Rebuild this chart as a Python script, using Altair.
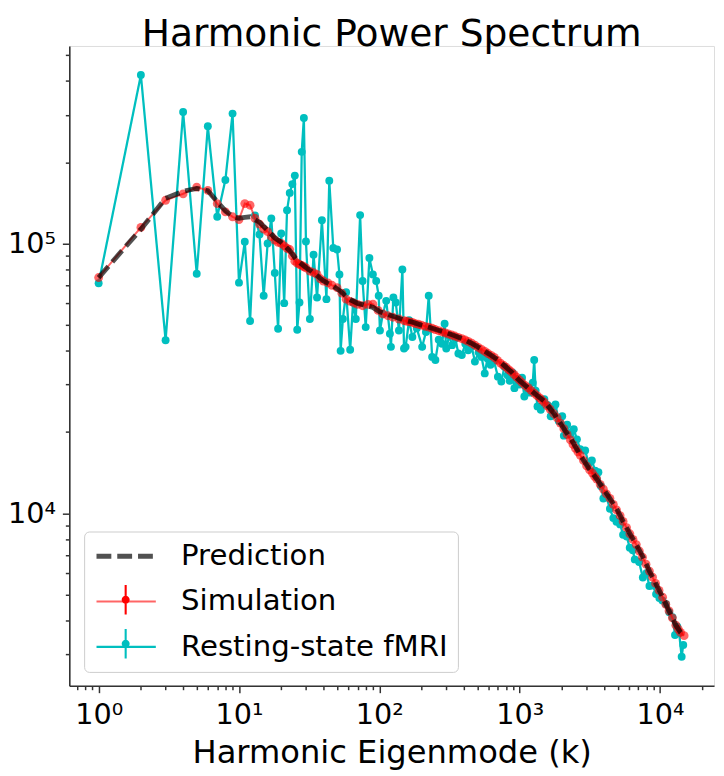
import altair as alt
import pandas as pd

SERIES = ["Prediction", "Simulation", "Resting-state fMRI"]
COLORS = ["#000000", "#ff0000", "#00bfbf"]
MARKERS = ["Simulation", "Resting-state fMRI"]

pred_k = [1, 2, 3, 4, 5, 6, 7, 8, 9, 10, 11, 12, 14, 16, 18, 20, 23, 26, 30, 35, 40,
          46, 53, 60, 70, 80, 90, 100, 115, 130, 150, 170, 200, 225, 260, 300, 345,
          390, 450, 500, 600, 700, 870, 1000, 1270, 1500, 1750, 2065, 2400, 2706,
          3100, 3542, 4000, 4400, 5000, 5460, 6100, 6780, 7600, 8410, 9400, 10440,
          11600, 12970, 14000, 14860]
pred_v = [74800, 113000, 147000, 156000, 160000, 157000, 143000, 132000, 126000, 124000,
          125000, 125500, 120000, 112000, 105000, 101000, 94000, 86500, 81500, 77000, 72600,
          70000, 66500, 62500, 60000, 59000, 58000, 56000, 54500, 53400, 52000, 51200, 49800,
          49000, 47800, 46700, 45500, 44400, 42800, 41500, 39100, 37000, 33500, 31000, 27900,
          26000, 23500, 20600, 18300, 16400, 14700, 13400, 12200, 11350, 10200, 9330, 8400,
          7660, 6850, 6110, 5450, 4890, 4350, 3850, 3620, 3520]

sim_k = [1, 2, 3, 4, 5, 6, 7, 8, 9, 10, 11, 12, 13, 14, 15, 16, 17, 18, 19, 20,
         21, 22, 23, 24, 25, 26, 27, 28, 29, 30, 32, 34, 36, 38, 40, 43, 46, 50, 54, 58,
         62, 66, 70, 76, 83, 90, 98, 106, 115, 125, 138,
         150, 157, 165, 172, 180, 190, 200, 212, 225, 238, 250, 265, 280, 295, 310,
         328, 345, 365, 387, 408, 430, 455, 480, 507, 535, 565, 595, 627, 660, 695,
         730, 765, 800, 835, 870, 910, 950, 995, 1040, 1090, 1150, 1210, 1270, 1330, 1390,
         1440, 1500, 1570, 1650, 1750, 1850, 1950, 2065, 2180, 2300, 2400, 2500, 2600,
         2706, 2850, 3000, 3150, 3300, 3420, 3542, 3750, 3950, 4150, 4400, 4650, 4900,
         5200, 5460, 5780, 6100, 6420, 6780, 7130, 7500, 7950, 8410, 8850, 9300, 9850,
         10440, 11000, 11600, 12250, 12970, 13500, 14000, 14860]
sim_v = [74800, 114700, 144600, 152800, 161700, 157300, 140500, 131000, 125600, 122700,
         140600, 138600, 124000, 118000, 113000, 110600, 106000, 103000, 101000, 100000,
         98000, 96000, 95000, 90000, 86000, 84500, 83600, 83000, 82000, 81200,
         79000, 78000, 76800, 74000, 72600, 71500, 70000, 68600, 65500, 62200,
         61000, 60200, 59500, 58800, 59500, 59600, 56500, 54800, 54000, 53300, 52500,
         51800, 51500, 51200, 51000, 50500, 50200, 49800, 49300, 49000, 48500, 48000,
         47500, 47000, 46600, 46200, 45800, 45400, 44900, 44400, 43900, 43400, 42700,
         42000, 41200, 40500, 39800, 39100, 38500, 37800, 36900, 36000, 35400, 34800,
         34100, 33500, 32700, 32000, 31200, 30500, 29800, 29200, 28500, 27900, 27300,
         26800, 26300, 25800, 25000, 24300, 23400, 22600, 21600, 20600, 19600, 18700,
         18000, 17400, 16900, 16400, 15700, 15000, 14500, 14100, 13700, 13400, 12800,
         12300, 11800, 11350, 10800, 10300, 9800, 9330, 8850, 8400, 8000, 7660, 7250,
         6880, 6480, 6110, 5800, 5500, 5180, 4890, 4600, 4350, 4100, 3850, 3720, 3620, 3520]

fmri_k = [1, 2, 3, 4, 5, 6, 7, 8, 9, 10, 11, 12, 13, 14, 15, 16, 17, 18, 19, 20,
          21, 22, 23, 24, 25, 26, 27, 28, 29, 30,
          32, 34, 36, 39, 42, 44, 47, 50, 52, 53, 55, 58, 62, 65, 68, 73, 76, 80, 85, 90,
          95, 99, 101, 106, 112, 119, 121, 126, 131, 138, 146, 150, 154, 163, 172, 185,
          202, 215, 225, 238, 251, 265, 280, 292, 300, 315, 330, 348, 366, 387, 410, 430,
          455, 480, 510, 535, 564, 590, 620, 655, 700, 740, 780, 820, 850, 890, 918, 960,
          1000, 1040, 1080, 1130, 1190, 1240, 1270, 1300, 1340, 1415,
          1500, 1580, 1665, 1755, 1800, 1900, 2010, 2065, 2180, 2300, 2430, 2560, 2700,
          2930, 3100, 3270, 3450, 3640, 3800, 3950, 4150, 4400, 4650, 4900, 5200, 5460,
          5800, 6090, 6400, 6610, 7100, 7550, 8000, 8410, 8900, 9380, 9900, 10400, 11020,
          11650, 12280, 12800, 13300, 13700, 14270, 14650]
fmri_v = [71200, 421000, 43800, 307000, 77200, 272000, 125600, 172000, 303000, 71600,
          101500, 51600, 127000, 108000, 64000, 100000, 123800, 77800, 48300, 109000,
          60100, 132800, 154000, 166000, 178500, 47900, 60400, 218600, 291700, 101700,
          52500, 90900, 63100, 122000, 62200, 171000, 96200, 95000, 76800, 40000, 52500,
          66000, 40400, 60400, 52500, 127400, 72600, 49000, 88300, 76800,
          72600, 64000, 47600, 54800, 61300, 46300, 41400, 63100, 60400, 47600, 80100,
          40800, 41400, 52000, 45000, 48500,
          41400, 47000, 64000, 38000, 37000, 44000, 42500, 50400, 40800, 45500, 42000,
          44500, 39100, 38600, 42500, 40200,
          41500, 36500, 39500, 38000, 33000, 37500, 35500, 36800, 32100, 30800, 34900,
          32500, 31000, 33200, 29100, 31500,
          30000, 31800, 27100, 29000, 28000, 30500, 37000, 28500, 24900, 24200,
          26500, 25200, 22900, 24900, 25300, 22000, 22900, 19400, 21300, 19600, 20500,
          18800, 17300,
          17100, 15300, 15700, 14400, 14200, 12600, 11350, 11500, 10400, 9600, 9300, 9100,
          8330,
          8200, 7450, 7300, 6750, 6600, 5780, 6000, 5380, 5400, 5020, 4850, 4750, 4610,
          4300, 4120, 3540, 3800, 3600, 2940, 3250]

x_ticks = [0.7, 0.8, 0.9, 1, 2, 3, 4, 5, 6, 7, 8, 9, 10, 20, 30, 40, 50, 60, 70, 80, 90,
           100, 200, 300, 400, 500, 600, 700, 800, 900, 1000, 2000, 3000, 4000, 5000,
           6000, 7000, 8000, 9000, 10000, 20000]
y_ticks = [3000, 4000, 5000, 6000, 7000, 8000, 9000, 10000, 20000, 30000, 40000, 50000,
           60000, 70000, 80000, 90000, 100000, 200000, 300000, 400000, 500000]

x_domain = [0.618, 24270]
y_domain = [2296, 539500]

pred = pd.DataFrame({"k": pred_k, "power": pred_v, "series": SERIES[0]})
sim = pd.DataFrame({"k": sim_k, "power": sim_v, "series": SERIES[1], "marker": SERIES[1]})
fmri = pd.DataFrame({"k": fmri_k, "power": fmri_v, "series": SERIES[2], "marker": SERIES[2]})

FONT = "DejaVu Sans"
EXP = "round(log(datum.value)/LN10)"
IS_MAJOR = "abs(log(datum.value)/LN10 - " + EXP + ") < 0.001"
SUP = ("(" + EXP + " == 0 ? '⁰' : " + EXP + " == 1 ? '¹' : " + EXP + " == 2 ? '²' : "
       + EXP + " == 3 ? '³' : " + EXP + " == 4 ? '⁴' : '⁵')")
LABEL = IS_MAJOR + " ? '10' + " + SUP + " : ''"
TICK_SIZE = {"condition": {"test": IS_MAJOR, "value": 7}, "value": 4}

x_axis = alt.Axis(values=x_ticks, labelExpr=LABEL, tickSize=TICK_SIZE, tickWidth=1.5,
                  tickColor="#333333", domainColor="#333333", domainWidth=1.6,
                  labelFont=FONT, labelFontSize=29, labelColor="black",
                  labelBaseline="alphabetic", labelPadding=31, labelFlush=False,
                  labelOverlap=False, grid=False, titleFont=FONT, titleFontSize=32.5,
                  titleFontWeight="normal", titleColor="black", titleY=78,
                  titleBaseline="alphabetic")
y_axis = alt.Axis(values=y_ticks, labelExpr=LABEL, tickSize=TICK_SIZE, tickWidth=1.5,
                  tickColor="#333333", domainColor="#333333", domainWidth=1.6,
                  labelFont=FONT, labelFontSize=29, labelColor="black",
                  labelPadding=7, labelFlush=False, labelOverlap=False, grid=False)

x_enc = alt.X("k:Q", title="Harmonic Eigenmode (k)",
              scale=alt.Scale(type="log", domain=x_domain, nice=False), axis=x_axis)
y_enc = alt.Y("power:Q", title=None,
              scale=alt.Scale(type="log", domain=y_domain, nice=False), axis=y_axis)

# main legend: line styles
legend = alt.Legend(orient="none", legendX=15, legendY=491, padding=10, cornerRadius=5,
                    strokeColor="#cccccc", fillColor="rgba(255,255,255,0.8)",
                    labelFont=FONT, labelFontSize=29.5, labelColor="black",
                    labelLimit=400, labelOffset=58, symbolOffset=0,
                    symbolType="M-1,0H3.8", symbolSize=625, rowPadding=15)
# marker overlay legend: dot with error bar on the Simulation / fMRI entries
marker_legend = alt.Legend(orient="none", legendX=42, legendY=545, padding=0,
                           labelExpr="''", labelFontSize=10, symbolOffset=0,
                           symbolType="M-0.07,-1H0.07V1H-0.07ZM0.27,0A0.27,0.27 0 1,1 -0.27,0A0.27,0.27 0 1,1 0.27,0Z",
                           symbolSize=900, symbolOpacity=1, symbolStrokeWidth=0,
                           rowPadding=14.5)

color = alt.Color("series:N", title=None, legend=legend,
                  scale=alt.Scale(domain=SERIES, range=COLORS))
opacity = alt.Opacity("series:N", title=None, legend=legend,
                      scale=alt.Scale(type="ordinal", domain=SERIES, range=[0.68, 0.6, 1.0]))
dash = alt.StrokeDash("series:N", title=None, legend=legend,
                      scale=alt.Scale(domain=SERIES, range=[[15, 6], [1, 0], [1, 0]]))
width = alt.StrokeWidth("series:N", title=None, legend=legend,
                        scale=alt.Scale(type="ordinal", domain=SERIES, range=[5, 2, 2.3]))
fill = alt.Fill("marker:N", title=None, legend=marker_legend,
                scale=alt.Scale(domain=MARKERS, range=COLORS[1:]))

def line_layer(df):
    return alt.Chart(df).mark_line().encode(
        x=x_enc, y=y_enc, color=color, opacity=opacity, strokeDash=dash, strokeWidth=width)

fmri_line = line_layer(fmri)
fmri_pts = alt.Chart(fmri).mark_circle(size=64, opacity=1).encode(
    x=x_enc, y=y_enc, fill=fill)
sim_line = line_layer(sim)
sim_pts = alt.Chart(sim).mark_circle(size=80, opacity=0.6).encode(
    x=x_enc, y=y_enc, fill=fill)
pred_line = line_layer(pred)

chart = alt.layer(fmri_line, fmri_pts, sim_line, sim_pts, pred_line).properties(
    width=652, height=647,
    autosize="none",
    padding={"left": 62, "top": 34, "right": 2, "bottom": 100},
    title=alt.TitleParams("Harmonic Power Spectrum", font=FONT, fontSize=38,
                          fontWeight="normal", color="black", anchor="middle",
                          offset=2, dy=15),
).configure_view(strokeWidth=0).configure(font=FONT)

chart.save("out.html", embed_options={"renderer": "svg", "actions": False})
